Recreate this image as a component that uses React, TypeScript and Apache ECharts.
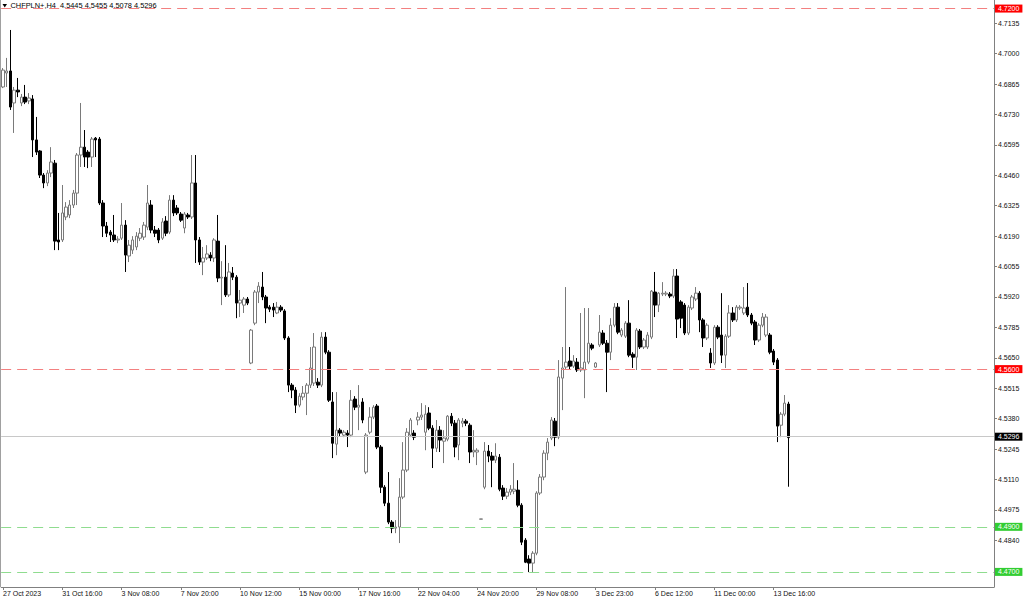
import React, { useEffect, useRef } from "react";
import * as echarts from "echarts";

const tickLabels = [
  "27 Oct 2023", "31 Oct 16:00", "3 Nov 08:00", "7 Nov 20:00", "10 Nov 12:00",
  "15 Nov 00:00", "17 Nov 16:00", "22 Nov 04:00", "24 Nov 20:00", "29 Nov 08:00",
  "3 Dec 23:00", "6 Dec 12:00", "11 Dec 00:00", "13 Dec 16:00",
];
const barsPerLabel = 16;
const totalSlots = 268;
const priceTicks = [
  4.7135, 4.7, 4.6865, 4.673, 4.6595, 4.646, 4.6325, 4.619, 4.6055, 4.592,
  4.5785, 4.565, 4.5515, 4.538, 4.5245, 4.511, 4.4975, 4.484,
];
const yMin = 4.4633;
const yMax = 4.7238;
const resistanceLevels = [4.72, 4.56];
const supportLevels = [4.49, 4.47];
const lastPrice = 4.5296;
const titleText = "CHFPLN+,H4  4.5445 4.5455 4.5078 4.5296";

// [open, close, low, high]
const candles: number[][] = [
  [4.6852, 4.6927, 4.6847, 4.6936], [4.6914, 4.6923, 4.6852, 4.6981], [4.6923, 4.6763, 4.675, 4.7105],
  [4.6781, 4.6838, 4.6648, 4.6852], [4.6838, 4.683, 4.6807, 4.6892], [4.6781, 4.6807, 4.6767, 4.6821],
  [4.6807, 4.6785, 4.6776, 4.6861], [4.679, 4.6803, 4.6776, 4.6825], [4.6799, 4.6617, 4.6541, 4.6816],
  [4.6617, 4.6563, 4.655, 4.6719], [4.6568, 4.6461, 4.6448, 4.6572], [4.6461, 4.6426, 4.6403, 4.647],
  [4.6426, 4.647, 4.6412, 4.6483], [4.647, 4.6519, 4.6452, 4.6585], [4.6514, 4.6168, 4.6128, 4.6528],
  [4.6173, 4.6164, 4.6128, 4.6293], [4.6173, 4.6293, 4.6164, 4.6417], [4.6275, 4.6319, 4.6261, 4.6341],
  [4.6284, 4.6328, 4.627, 4.635], [4.6328, 4.6381, 4.6315, 4.6395], [4.6381, 4.655, 4.6328, 4.6559],
  [4.655, 4.6585, 4.6497, 4.6781], [4.6585, 4.6541, 4.6497, 4.6661], [4.6563, 4.6541, 4.6492, 4.6572],
  [4.6541, 4.6621, 4.6497, 4.663], [4.6625, 4.6617, 4.6541, 4.663], [4.6621, 4.6337, 4.6328, 4.663],
  [4.6337, 4.6235, 4.6186, 4.635], [4.6235, 4.6203, 4.6186, 4.6253], [4.6208, 4.6195, 4.6164, 4.6217],
  [4.6195, 4.6173, 4.6164, 4.6284], [4.6173, 4.6177, 4.6159, 4.619], [4.6181, 4.6239, 4.6173, 4.6337],
  [4.6239, 4.6106, 4.6031, 4.6261], [4.6102, 4.615, 4.6075, 4.6173], [4.6128, 4.6173, 4.6111, 4.619],
  [4.6142, 4.619, 4.6128, 4.6208], [4.6181, 4.6203, 4.6168, 4.6226], [4.6186, 4.6239, 4.6173, 4.6253],
  [4.623, 4.6337, 4.6217, 4.6417], [4.6328, 4.6217, 4.6203, 4.635], [4.6217, 4.6203, 4.6186, 4.6235],
  [4.6217, 4.6173, 4.6159, 4.6226], [4.6181, 4.6253, 4.6173, 4.627], [4.6257, 4.6203, 4.619, 4.6279],
  [4.6208, 4.635, 4.6199, 4.6372], [4.635, 4.6293, 4.6279, 4.6372], [4.6315, 4.6293, 4.6284, 4.6328],
  [4.6288, 4.6261, 4.6253, 4.6297], [4.6226, 4.6288, 4.6203, 4.6297], [4.6284, 4.6275, 4.6266, 4.6293],
  [4.6275, 4.6426, 4.6266, 4.655], [4.6426, 4.6173, 4.6071, 4.655], [4.6173, 4.6075, 4.6062, 4.6186],
  [4.6075, 4.6093, 4.6017, 4.6142], [4.6093, 4.6111, 4.6084, 4.615], [4.6106, 4.6093, 4.6079, 4.6119],
  [4.6093, 4.6173, 4.6075, 4.6181], [4.6168, 4.6004, 4.5986, 4.6284], [4.6004, 4.6008, 4.5884, 4.6079],
  [4.6008, 4.5929, 4.592, 4.615], [4.5929, 4.6031, 4.592, 4.6071], [4.6026, 4.6008, 4.5995, 4.6053],
  [4.6008, 4.5893, 4.5826, 4.6017], [4.5893, 4.5906, 4.5831, 4.5951], [4.5884, 4.5911, 4.5849, 4.592],
  [4.5911, 4.5893, 4.5884, 4.592], [4.5627, 4.5773, 4.5622, 4.5778], [4.5804, 4.5942, 4.5795, 4.5951],
  [4.5942, 4.5968, 4.5893, 4.5986], [4.5964, 4.592, 4.5906, 4.6031], [4.592, 4.5871, 4.5804, 4.5929],
  [4.5875, 4.5866, 4.5853, 4.5884], [4.5875, 4.5862, 4.5831, 4.5893], [4.5849, 4.5875, 4.5844, 4.5898],
  [4.5875, 4.5862, 4.5853, 4.5884], [4.5858, 4.5738, 4.5729, 4.5866], [4.5738, 4.5529, 4.5498, 4.5746],
  [4.5529, 4.5507, 4.5471, 4.5538], [4.5507, 4.544, 4.5405, 4.552], [4.544, 4.548, 4.5431, 4.5493],
  [4.5476, 4.5493, 4.5462, 4.5525], [4.5493, 4.5529, 4.5396, 4.5538], [4.5529, 4.5605, 4.5516, 4.5698],
  [4.5538, 4.5698, 4.5525, 4.576], [4.5542, 4.5529, 4.5516, 4.556], [4.5529, 4.5742, 4.552, 4.5764],
  [4.5742, 4.5675, 4.5666, 4.5764], [4.5675, 4.5462, 4.5454, 4.5684], [4.5454, 4.5271, 4.5205, 4.5498],
  [4.5267, 4.5329, 4.5218, 4.5498], [4.5329, 4.5316, 4.5302, 4.5338], [4.5307, 4.532, 4.5298, 4.5329],
  [4.5316, 4.5307, 4.5254, 4.5329], [4.5307, 4.5462, 4.5298, 4.5507], [4.5467, 4.5431, 4.5418, 4.548],
  [4.5431, 4.544, 4.5329, 4.5529], [4.5454, 4.5374, 4.536, 4.5471], [4.5143, 4.5307, 4.5134, 4.5316],
  [4.532, 4.5387, 4.5311, 4.5431], [4.5387, 4.5431, 4.5378, 4.544], [4.5436, 4.5254, 4.5245, 4.5445],
  [4.5254, 4.5076, 4.505, 4.5263], [4.5076, 4.5005, 4.4992, 4.5085], [4.5005, 4.4921, 4.4912, 4.5143],
  [4.4921, 4.4894, 4.4872, 4.493], [4.4894, 4.4899, 4.4872, 4.493], [4.4899, 4.5032, 4.4828, 4.5116],
  [4.5032, 4.5152, 4.5023, 4.5276], [4.5152, 4.532, 4.5143, 4.5338], [4.5307, 4.5374, 4.5298, 4.5383],
  [4.5316, 4.5298, 4.5285, 4.5329], [4.5374, 4.5387, 4.5351, 4.5409], [4.5387, 4.5396, 4.5374, 4.5449],
  [4.532, 4.54, 4.524, 4.544], [4.5405, 4.5338, 4.5329, 4.5431], [4.5338, 4.5249, 4.5161, 4.5351],
  [4.5249, 4.5329, 4.5232, 4.5374], [4.5329, 4.5285, 4.5232, 4.5347], [4.528, 4.5294, 4.5183, 4.5329],
  [4.5289, 4.5391, 4.528, 4.5396], [4.5391, 4.536, 4.5347, 4.5405], [4.536, 4.5254, 4.5209, 4.5374],
  [4.5263, 4.5374, 4.5196, 4.5383], [4.536, 4.5369, 4.5342, 4.5383], [4.5369, 4.536, 4.5347, 4.5378],
  [4.5351, 4.5232, 4.5183, 4.536], [4.5232, 4.524, 4.5209, 4.5329], [4.5232, 4.524, 4.5174, 4.5249],
  [4.4934, 4.4935, 4.4934, 4.4935], [4.5076, 4.5236, 4.5067, 4.5276], [4.5236, 4.5214, 4.5187, 4.5263],
  [4.5214, 4.5196, 4.5076, 4.5232], [4.5196, 4.5214, 4.5183, 4.5271], [4.5209, 4.5067, 4.5058, 4.5223],
  [4.5072, 4.5036, 4.5019, 4.5085], [4.5036, 4.5054, 4.5023, 4.5072], [4.5054, 4.5067, 4.5041, 4.5085],
  [4.5058, 4.5067, 4.5045, 4.5183], [4.5063, 4.4996, 4.4987, 4.5107], [4.4996, 4.4832, 4.4819, 4.5005],
  [4.4841, 4.4743, 4.4739, 4.485], [4.4757, 4.4739, 4.4699, 4.4774], [4.4739, 4.4783, 4.4699, 4.4792],
  [4.4783, 4.505, 4.4774, 4.5058], [4.505, 4.5121, 4.5041, 4.5134], [4.5121, 4.5227, 4.5107, 4.524],
  [4.5227, 4.5276, 4.5196, 4.5294], [4.5294, 4.5374, 4.5285, 4.5387], [4.5369, 4.5298, 4.5258, 4.5383],
  [4.5298, 4.5565, 4.5289, 4.564], [4.556, 4.5605, 4.5418, 4.5698], [4.5609, 4.5631, 4.56, 4.5964],
  [4.5636, 4.5613, 4.5596, 4.5698], [4.5613, 4.5636, 4.5605, 4.5662], [4.5631, 4.5596, 4.5587, 4.5649],
  [4.5596, 4.5605, 4.5587, 4.5849], [4.5596, 4.5631, 4.5471, 4.5871], [4.5631, 4.5715, 4.5622, 4.5871],
  [4.5707, 4.5693, 4.5684, 4.5715], [4.5609, 4.5627, 4.5605, 4.5631], [4.5707, 4.5764, 4.5698, 4.584],
  [4.576, 4.5715, 4.5707, 4.5773], [4.5715, 4.5675, 4.5498, 4.5729], [4.5675, 4.5795, 4.564, 4.5826],
  [4.5795, 4.5875, 4.5786, 4.5893], [4.5875, 4.5764, 4.5755, 4.5893], [4.5751, 4.5773, 4.5742, 4.5782],
  [4.5746, 4.5804, 4.5738, 4.5813], [4.5804, 4.5662, 4.5653, 4.5906], [4.5666, 4.5653, 4.5605, 4.5675],
  [4.5653, 4.5773, 4.5596, 4.5782], [4.5769, 4.5698, 4.5689, 4.5778], [4.5698, 4.5729, 4.5689, 4.5738],
  [4.5698, 4.5751, 4.5689, 4.5764], [4.5742, 4.5946, 4.5733, 4.5951], [4.5942, 4.5884, 4.5831, 4.6031],
  [4.5884, 4.5937, 4.5853, 4.5942], [4.5933, 4.5937, 4.5924, 4.5986], [4.5933, 4.5937, 4.5924, 4.5946],
  [4.5933, 4.5924, 4.5915, 4.5942], [4.5924, 4.6013, 4.5915, 4.6044], [4.6013, 4.5822, 4.5738, 4.6044],
  [4.5898, 4.5826, 4.5782, 4.5906], [4.5884, 4.576, 4.5751, 4.5893], [4.576, 4.5875, 4.5751, 4.5884],
  [4.5871, 4.592, 4.5862, 4.5929], [4.5911, 4.5937, 4.5902, 4.5964], [4.5937, 4.5818, 4.5764, 4.5946],
  [4.5818, 4.5738, 4.5698, 4.5826], [4.5738, 4.5795, 4.5729, 4.5804], [4.5671, 4.5627, 4.5605, 4.5693],
  [4.5627, 4.5786, 4.5618, 4.5795], [4.5786, 4.5742, 4.5733, 4.5795], [4.5751, 4.5662, 4.5627, 4.5937],
  [4.5662, 4.5746, 4.5605, 4.5755], [4.5746, 4.5849, 4.5738, 4.5884], [4.5849, 4.5818, 4.5809, 4.5875],
  [4.5818, 4.5875, 4.5809, 4.5884], [4.5871, 4.5875, 4.5862, 4.5884], [4.5849, 4.5871, 4.584, 4.5964],
  [4.5875, 4.584, 4.5831, 4.5982], [4.584, 4.5804, 4.5795, 4.5849], [4.5809, 4.5729, 4.5707, 4.5818],
  [4.5729, 4.5795, 4.572, 4.5804], [4.5795, 4.5831, 4.5786, 4.5849], [4.5751, 4.5831, 4.5742, 4.5844],
  [4.5751, 4.5675, 4.5666, 4.576], [4.568, 4.5631, 4.5618, 4.5689], [4.564, 4.5347, 4.5276, 4.5649],
  [4.5351, 4.54, 4.5298, 4.5409], [4.54, 4.5449, 4.5391, 4.5485], [4.5445, 4.5296, 4.5078, 4.5455],
];

const FONT = "'Liberation Sans', Arial, sans-serif";

export default function App() {
  const ref = useRef<HTMLDivElement>(null);

  useEffect(() => {
    if (!ref.current) return;
    const chart = echarts.init(ref.current, undefined, { renderer: "svg" });
    const categories = Array.from({ length: totalSlots }, (_, i) => String(i));
    const showTick = (idx: number) =>
      idx % barsPerLabel === 0 && idx / barsPerLabel < tickLabels.length;

    const levelLine = (value: number, line: string, box: string, solid = false) => ({
      yAxis: value,
      lineStyle: { color: line, width: 1.2, type: solid ? "solid" : [10, 6] },
      label: {
        show: true,
        position: "end",
        distance: 1,
        formatter: value.toFixed(4),
        color: "#fff",
        backgroundColor: box,
        padding: [1, 3, 0, 3],
        fontSize: 7,
        fontFamily: FONT,
      },
    });

    chart.setOption({
      animation: false,
      backgroundColor: "#fff",
      grid: { left: 0, top: 0, right: 30, bottom: 13 },
      xAxis: {
        type: "category",
        data: categories,
        boundaryGap: true,
        axisLine: { show: true, lineStyle: { color: "#808080", width: 1 } },
        axisTick: {
          show: true,
          alignWithLabel: true,
          interval: (idx: number) => showTick(idx),
          length: 3,
          lineStyle: { color: "#808080" },
        },
        axisLabel: {
          interval: (idx: number) => showTick(idx),
          formatter: (_v: string, idx: number) => tickLabels[idx / barsPerLabel] ?? "",
          align: "left",
          margin: 3,
          fontSize: 7,
          color: "#111",
          fontFamily: FONT,
        },
        splitLine: { show: false },
      },
      yAxis: {
        type: "value",
        position: "right",
        min: yMin,
        max: yMax,
        scale: true,
        axisLine: { show: true, lineStyle: { color: "#808080", width: 1 } },
        axisTick: {
          show: true,
          length: 3,
          customValues: priceTicks,
          lineStyle: { color: "#808080" },
        },
        axisLabel: {
          customValues: priceTicks,
          formatter: (v: number) => v.toFixed(4),
          margin: 4,
          fontSize: 7,
          color: "#111",
          fontFamily: FONT,
        },
        splitLine: { show: false },
      },
      graphic: [
        {
          type: "line",
          shape: { x1: 0.5, y1: 0, x2: 0.5, y2: 587 },
          style: { stroke: "#a0a0a0", lineWidth: 1 },
        },
        {
          type: "polygon",
          shape: { points: [[2.5, 4], [7, 4], [4.75, 7.5]] },
          style: { fill: "#000" },
        },
        {
          type: "text",
          x: 10.5,
          y: 2.2,
          style: { text: titleText, fontSize: 7.4, fill: "#000", fontFamily: FONT },
        },
      ],
      series: [
        {
          type: "candlestick",
          data: candles,
          barWidth: 3,
          itemStyle: {
            color: "#ffffff",
            color0: "#000000",
            borderColor: "#7a7a7a",
            borderColor0: "#000000",
            borderWidth: 1,
          },
          markLine: {
            silent: true,
            symbol: ["none", "none"],
            animation: false,
            data: [
              ...resistanceLevels.map((v) => levelLine(v, "#f38080", "#ff0000")),
              ...supportLevels.map((v) => levelLine(v, "#8fdc8f", "#32cd32")),
              levelLine(lastPrice, "#c8c8c8", "#000000", true),
            ],
          },
        },
      ],
    });
    return () => chart.dispose();
  }, []);

  return (
    <div
      ref={ref}
      style={{ position: "fixed", left: 0, top: 0, width: 1024, height: 600, background: "#fff" }}
    />
  );
}
